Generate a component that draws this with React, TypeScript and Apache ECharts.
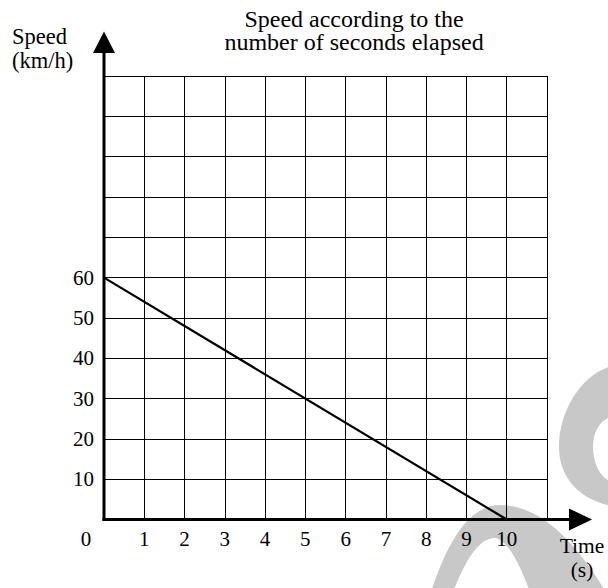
import React, { useEffect, useRef } from "react";
import * as echarts from "echarts";

// ---- data ----
const times = [0, 10];
const speeds = [60, 0];
const xTickLabels = ["1", "2", "3", "4", "5", "6", "7", "8", "9", "10"];
const yTickLabels = ["10", "20", "30", "40", "50", "60"];
const xMax = 11;
const yMax = 110;
const titleLines = ["Speed according to the", "number of seconds elapsed"];
const yNameLines = ["Speed", "(km/h)"];
const xNameLines = ["Time", "(s)"];
const originLabel = "0";

const FONT = "Liberation Serif, serif";

const wmA =
  "M 612 366 C 582 374 559 410 559 447 C 559 478 580 500 612 506 L 612 482 C 600 478 593 463 593 447 C 593 432 600 420 612 416 Z";
const wmB =
  "M 431 592 C 448 540 470 505 500 505 C 545 505 580 550 606 592 L 530 592 C 520 565 508 540 495 538 C 478 538 465 562 453 592 Z";

export default function App() {
  const ref = useRef<HTMLDivElement>(null);
  useEffect(() => {
    const el = ref.current!;
    try {
      echarts.graphic.registerShape("wmA", echarts.graphic.extendPath(wmA, {}));
      echarts.graphic.registerShape("wmB", echarts.graphic.extendPath(wmB, {}));
    } catch (e) {}
    const chart = echarts.init(el, null, { renderer: "svg" });
    const label = {
      fontFamily: FONT,
      fontSize: 21,
      color: "#000",
    };
    chart.setOption({
      animation: false,
      backgroundColor: "#fff",
      grid: { left: 104, right: 61, top: 76, bottom: 68.5, containLabel: false },
      xAxis: {
        type: "value",
        min: 0,
        max: xMax,
        interval: 1,
        axisLine: { show: false },
        axisTick: { show: false },
        splitLine: { show: true, lineStyle: { color: "#000", width: 1 } },
        axisLabel: {
          ...label,
          margin: 9,
          showMinLabel: true,
          showMaxLabel: true,
          formatter: (v: number) => (xTickLabels.includes(String(v)) ? String(v) : ""),
        },
      },
      yAxis: {
        type: "value",
        min: 0,
        max: yMax,
        interval: 10,
        axisLine: { show: false },
        axisTick: { show: false },
        splitLine: { show: true, lineStyle: { color: "#000", width: 1 } },
        axisLabel: {
          ...label,
          margin: 10,
          showMinLabel: true,
          showMaxLabel: true,
          formatter: (v: number) => (yTickLabels.includes(String(v)) ? String(v) : ""),
        },
      },
      series: [
        {
          type: "line",
          data: times.map((t, i) => [t, speeds[i]]),
          symbol: "none",
          lineStyle: { color: "#000", width: 2.2 },
          z: 5,
        },
      ],
    });

    const o = chart.convertToPixel({ gridIndex: 0 }, [0, 0]) as number[];
    const top = chart.convertToPixel({ gridIndex: 0 }, [0, yMax]) as number[];
    const right = chart.convertToPixel({ gridIndex: 0 }, [xMax, 0]) as number[];

    const ttl = (
      text: string,
      x: number,
      y: number,
      size: number,
      align: string,
      lineHeight?: number
    ) => ({
      text,
      left: x,
      top: y,
      padding: 0,
      itemGap: 0,
      textAlign: align,
      textVerticalAlign: "top",
      textStyle: {
        fontFamily: FONT,
        fontSize: size,
        fontWeight: "normal",
        color: "#000",
        ...(lineHeight ? { lineHeight } : {}),
      },
    });

    chart.setOption({
      title: [
        ttl(titleLines.join("\n"), 354, 7.2, 24, "center", 23.5),
        ttl(yNameLines[0], 12, 25, 22.5, "left"),
        ttl(yNameLines[1], 12, 49, 22.5, "left"),
        ttl(xNameLines[0], 582, 535, 21.5, "center"),
        ttl(xNameLines[1], 582, 559, 21.5, "center"),
        ttl(originLabel, o[0] - 18, o[1] + 9, 21, "center"),
      ],
      graphic: [
        { type: "wmA", x: 0, y: 0, z: -10, silent: true, style: { fill: "#c8c8c8" } },
        { type: "wmB", x: 0, y: 0, z: -10, silent: true, style: { fill: "#c8c8c8" } },
        {
          type: "line",
          z: 8,
          shape: { x1: o[0], y1: o[1] + 1.5, x2: o[0], y2: top[1] - 24 },
          style: { stroke: "#000", lineWidth: 3 },
        },
        {
          type: "polygon",
          z: 8,
          shape: {
            points: [
              [o[0], top[1] - 44.5],
              [o[0] - 11, top[1] - 23],
              [o[0] + 11, top[1] - 23],
            ],
          },
          style: { fill: "#000" },
        },
        {
          type: "line",
          z: 8,
          shape: { x1: o[0] - 1.5, y1: o[1], x2: right[0] + 24, y2: o[1] },
          style: { stroke: "#000", lineWidth: 3 },
        },
        {
          type: "polygon",
          z: 8,
          shape: {
            points: [
              [right[0] + 45, o[1]],
              [right[0] + 22, o[1] - 11],
              [right[0] + 22, o[1] + 11],
            ],
          },
          style: { fill: "#000" },
        },
      ],
    });

    return () => chart.dispose();
  }, []);

  return (
    <div
      ref={ref}
      style={{ position: "absolute", left: 0, top: 0, width: 608, height: 588 }}
    />
  );
}
